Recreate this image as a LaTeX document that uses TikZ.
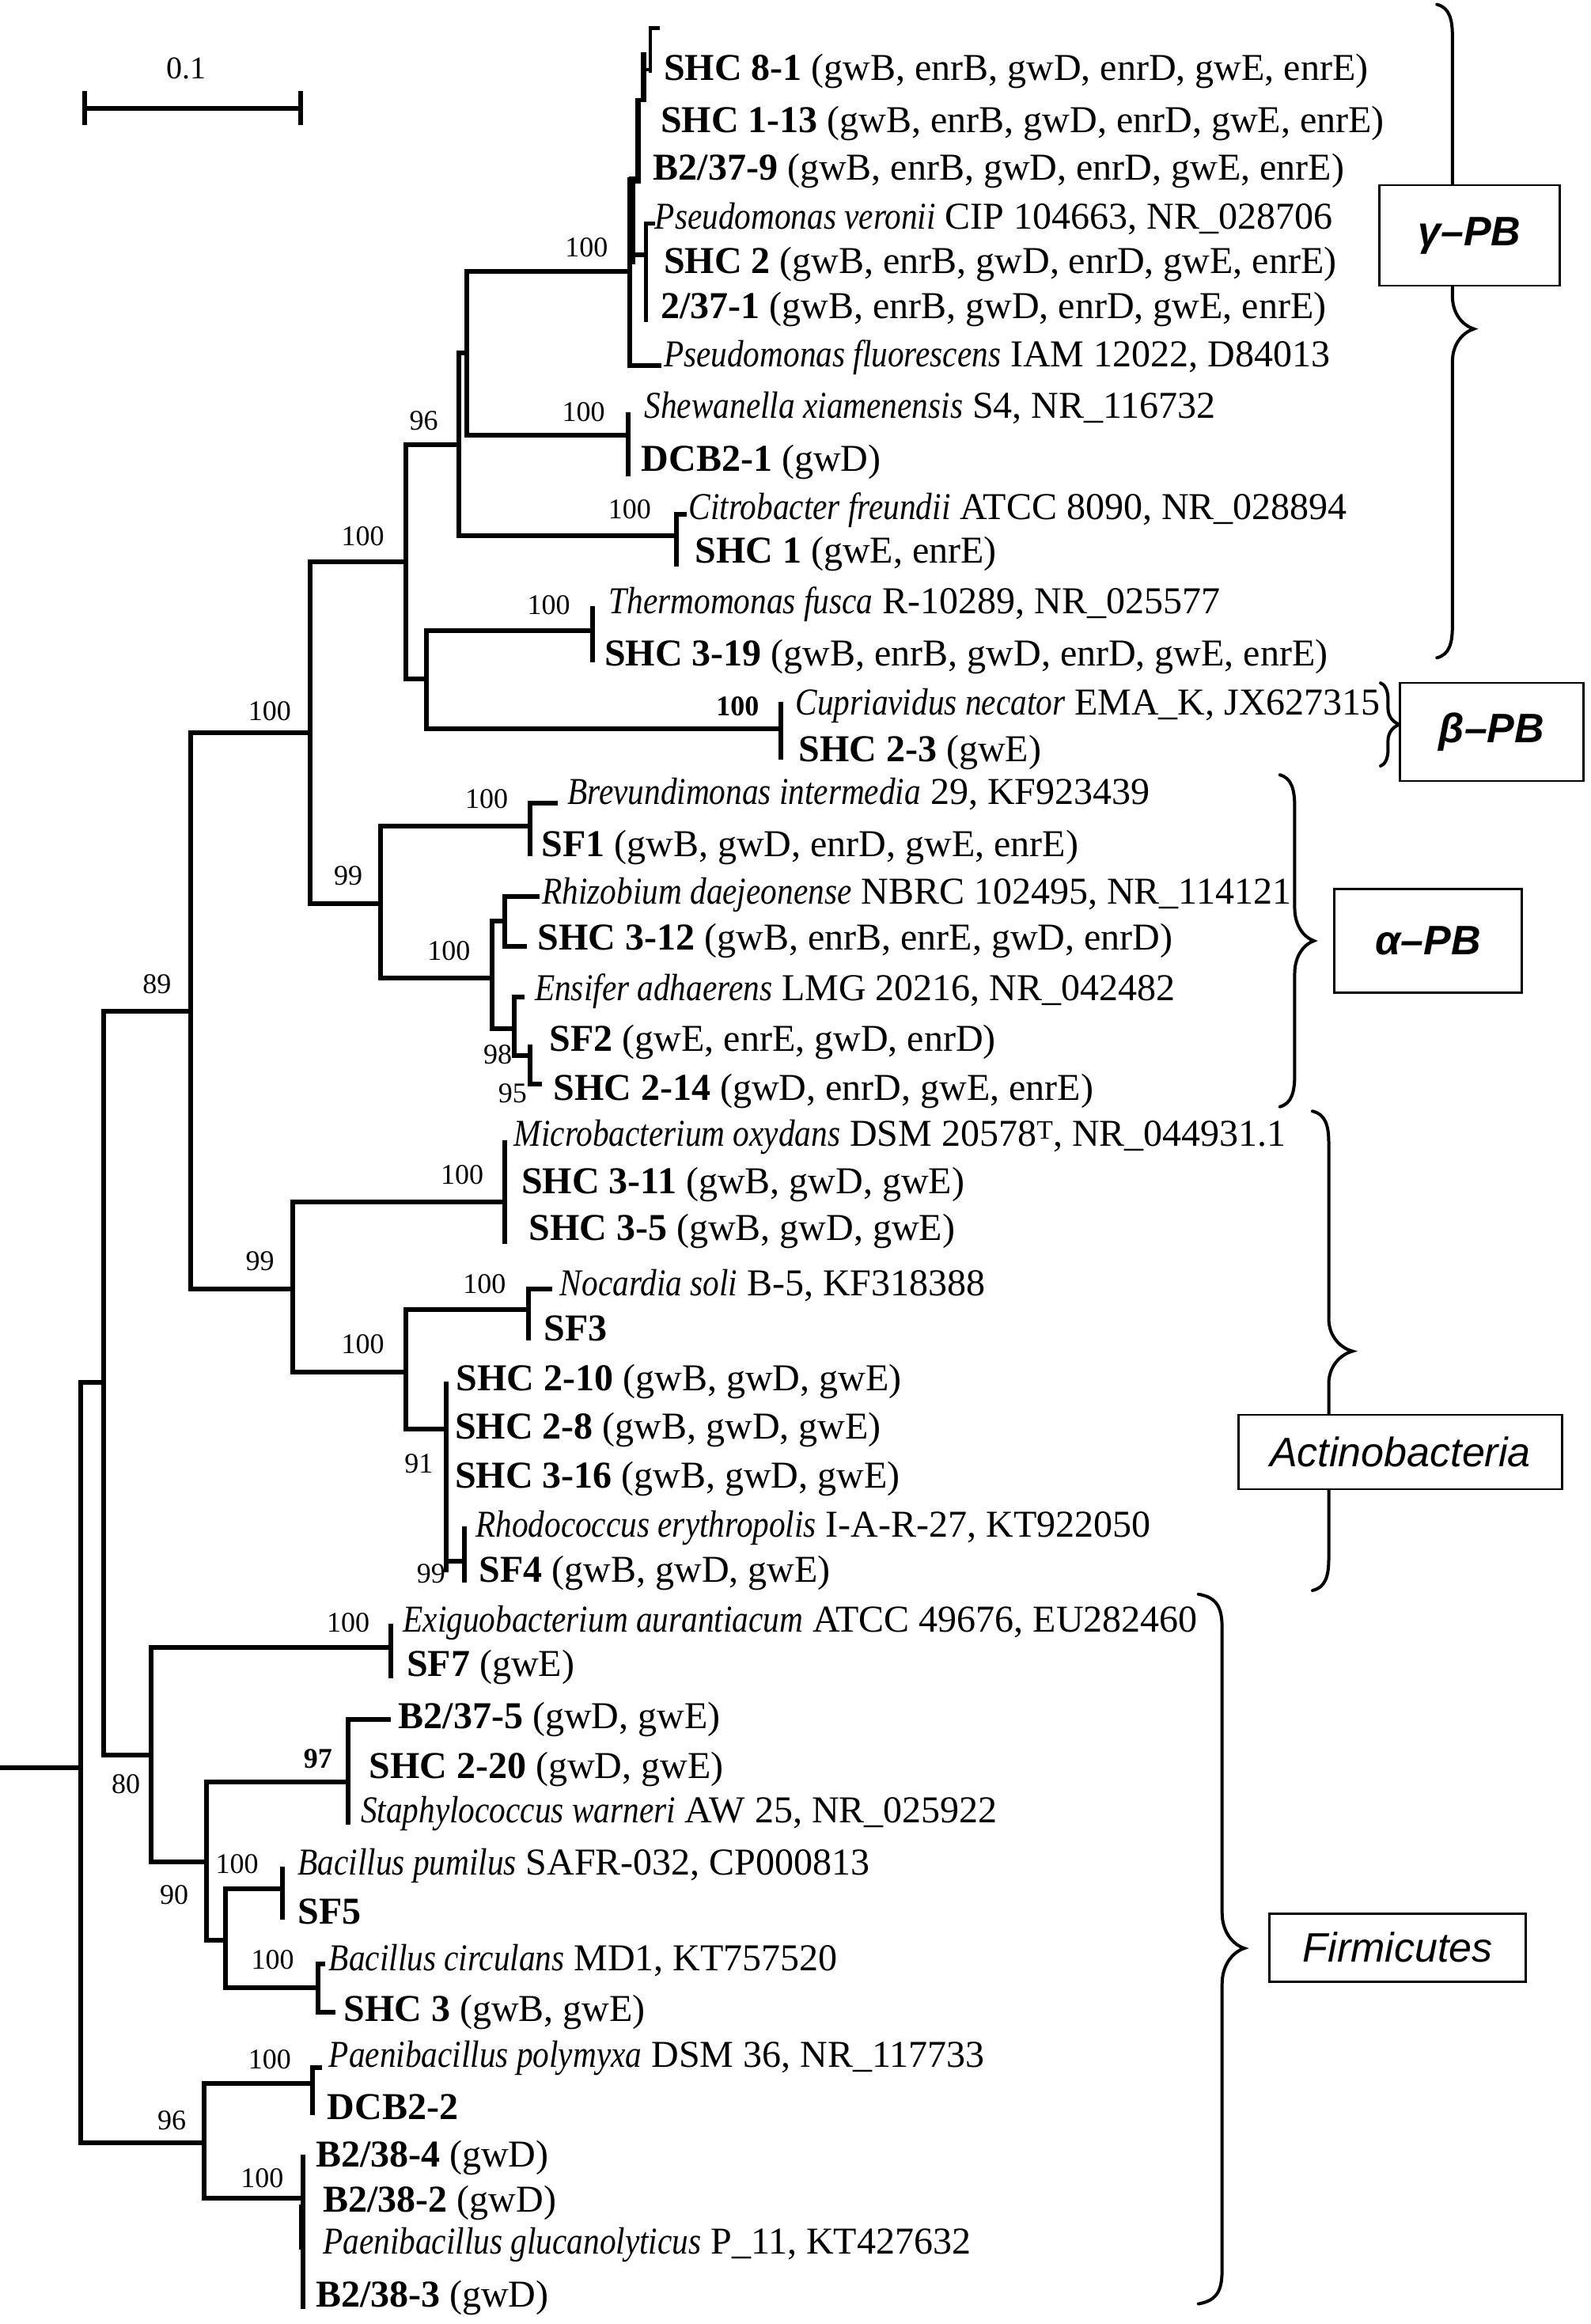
\documentclass[tikz,border=0pt]{standalone}
\usepackage{fontspec}
\setmainfont{Liberation Serif}[ItalicFeatures={FakeStretch=0.86}]
\newfontfamily\boxfont{Liberation Sans}
\newcommand\cbrace[7]{%
  \draw[brc] (#1,#3) .. controls ({#2-2},{#3+0.1*#7}) and (#2,{#3+0.45*#7}) .. (#2,{#3+#7})
    -- (#2,{#5-#7}) .. controls (#2,{#5-0.45*#7}) and ({0.5*(#2+#4)},{#5-0.1*#7}) .. (#4,#5)
    .. controls ({0.5*(#2+#4)},{#5+0.1*#7}) and (#2,{#5+0.45*#7}) .. (#2,{#5+#7})
    -- (#2,{#6-#7}) .. controls (#2,{#6-0.45*#7}) and ({#2-2},{#6-0.1*#7}) .. (#1,#6);}
\begin{document}
\begin{tikzpicture}[x=1.8724pt,y=-1.8724pt,
  br/.style={line width=6pt,line cap=rect},
  thn/.style={line width=4.5pt,line cap=rect},
  thk/.style={line width=8pt,line cap=rect},
  brc/.style={line width=4pt,line cap=round},
  lab/.style={anchor=west,inner sep=0pt,font=\fontsize{48}{56}\selectfont,text height=34pt,text depth=10pt},
  bs/.style={inner sep=0pt,font=\fontsize{36}{40}\selectfont},
  bsb/.style={bs,font=\fontsize{36}{40}\selectfont\bfseries},
  cbox/.style={draw,line width=2.5pt,fill=white,inner sep=0pt,font=\boxfont\fontsize{52}{60}\selectfont}]
\useasboundingbox (0,0) rectangle (1074.03,1568.6);

% scale bar
\coordinate (sb1) at (57,73);
\coordinate (sb2) at (203,73);
\draw[br] (sb1) -- (sb2);
\draw[br] (57,63) -- (57,83);
\draw[br] (203,63) -- (203,83);
\node[bs,font=\fontsize{40}{44}\selectfont] (sbl) at (126,46) {0.1};

% internal nodes
\coordinate (root0) at (0,1193);
\coordinate (R) at (54.5,1193);
\coordinate (A) at (69.8,933);
\coordinate (F96) at (138,1446.5);
\coordinate (N89) at (128.7,682.5);
\coordinate (N80) at (102,1184.8);
\coordinate (N100a) at (209.5,494.5);
\coordinate (N99b) at (197.5,870);
\coordinate (G) at (274,379);
\coordinate (N99a) at (257,610);
\coordinate (N96) at (310,300);
\coordinate (NTB) at (288,458.5);
\coordinate (Nsub) at (315,238);
\coordinate (Cit) at (456.4,361.5);
\coordinate (Pse) at (425,183);
\coordinate (She) at (424,294);
\coordinate (Th) at (400,425.7);
\coordinate (Cu) at (527,492);
\coordinate (Bre) at (357.6,557.5);
\coordinate (Rh) at (332,660);
\coordinate (RhA) at (340.6,621.8);
\coordinate (En) at (347.4,694.5);
\coordinate (SFn) at (357.6,712.4);
\coordinate (Mi) at (340.6,811);
\coordinate (Ac) at (274,926);
\coordinate (No) at (356.8,884);
\coordinate (N91) at (301,964.7);
\coordinate (Rho) at (313.4,1053.6);
\coordinate (Ex) at (264,1111.8);
\coordinate (N90) at (139.6,1256.9);
\coordinate (N97) at (235,1202.6);
\coordinate (Nb) at (152,1309.4);
\coordinate (Pu) at (190.7,1274.7);
\coordinate (Ci) at (214.6,1341.4);
\coordinate (Pol) at (211,1406.4);
\coordinate (B38) at (204.4,1483.8);

\draw[br] (root0) -- (R);
\draw[br] (R) |- (A);  \draw[br] (R) |- (F96);
\draw[br] (A) |- (N89); \draw[br] (A) |- (N80);
\draw[br] (N89) |- (N100a); \draw[br] (N89) |- (N99b);
\draw[br] (N100a) |- (G); \draw[br] (N100a) |- (N99a);
\draw[br] (G) |- (N96); \draw[br] (G) |- (NTB);
\draw[br] (N96) |- (Nsub); \draw[br] (N96) |- (Cit);
\draw[br] (Nsub) |- (Pse); \draw[br] (Nsub) |- (She);
\draw[br] (NTB) |- (Th); \draw[br] (NTB) |- (Cu);
\draw[br] (N99a) |- (Bre); \draw[br] (N99a) |- (Rh);
\draw[br] (Rh) |- (RhA); \draw[br] (Rh) |- (En);
\draw[br] (En) |- (SFn);
\draw[br] (N99b) |- (Mi); \draw[br] (N99b) |- (Ac);
\draw[br] (Ac) |- (No); \draw[br] (Ac) |- (N91);
\draw[br] (N91) |- (Rho);
\draw[br] (N80) |- (Ex); \draw[br] (N80) |- (N90);
\draw[br] (N90) |- (N97); \draw[br] (N90) |- (Nb);
\draw[br] (Nb) |- (Pu); \draw[br] (Nb) |- (Ci);
\draw[br] (F96) |- (Pol); \draw[br] (F96) |- (B38);

% Pseudomonas cluster
\coordinate (Lflu) at (445,246.5);
\coordinate (PseTop) at (425,121);
\coordinate (Ver) at (436,172);
\coordinate (Lver) at (441,151);
\coordinate (L237) at (436,216);
\draw[br] (Pse) |- (Lflu);
\draw[br] (Pse) -- (PseTop);
\draw[br] (Pse) |- (Ver);
\draw[thn] (Ver) |- (Lver);
\draw[thn] (Ver) -- (L237);
\draw[thk] (426.8,121) -- (426.8,176);
\draw[line width=7pt] (430.8,66) -- (430.8,124);
\draw[line width=7pt] (434.3,35) -- (434.3,69);
\draw[thn] (434.3,47) -- (439,47);
\draw[thn] (439,19) -- (439,48);
\draw[thn] (439,19) -- (444,19);

% terminal clusters
\draw[br] (424,280) -- (424,320);
\draw[br] (462,347) -- (456.4,347) -- (456.4,380.8);
\draw[br] (400,410.7) -- (400,445.4);
\draw[br] (527,475.4) -- (527,511);
\draw[br] (374.7,542) -- (357.6,542) -- (357.6,576.5);
\draw[br] (362.7,605) -- (340.6,605) -- (340.6,638.5) -- (354,638.5);
\draw[br] (352.5,673) -- (347.4,673) -- (347.4,694.5);
\draw[br] (357.6,706.5) -- (357.6,731.5) -- (364.4,731.5);
\draw[br] (340.6,771) -- (340.6,838);
\draw[br] (371,870) -- (356.8,870) -- (356.8,903);
\draw[br] (301,934) -- (301,1059.5);
\draw[br] (313.4,1032) -- (313.4,1066.7);
\draw[br] (264,1097.6) -- (264,1131.4);
\draw[br] (262,1160.7) -- (235,1160.7) -- (235,1230);
\draw[br] (190.7,1261.3) -- (190.7,1294.2);
\draw[br] (218,1325.4) -- (214.6,1325.4) -- (214.6,1358.3) -- (224.8,1358.3);
\draw[br] (216,1395.7) -- (211,1395.7) -- (211,1426);
\draw[br] (204.4,1456) -- (204.4,1556.8);
\draw[thk] (203.9,1490) -- (203.9,1516);

% bootstrap values
\node[bs] (b1) at (396,167) {100};
\node[bs] (b2) at (286,284) {96};
\node[bs] (b3) at (394,278) {100};
\node[bs] (b4) at (425,344) {100};
\node[bs] (b5) at (245,362) {100};
\node[bs] (b6) at (370.5,408.5) {100};
\node[bsb] (b7) at (498,477) {100};
\node[bs] (b8) at (182,480) {100};
\node[bs] (b9) at (106,664) {89};
\node[bs] (b10) at (328.5,539.5) {100};
\node[bs] (b11) at (235,591) {99};
\node[bs] (b12) at (303,642) {100};
\node[bs] (b13) at (336,712) {98};
\node[bs] (b14) at (346,738) {95};
\node[bs] (b15) at (312,793) {100};
\node[bs] (b16) at (175.5,851) {99};
\node[bs] (b17) at (327,866.5) {100};
\node[bs] (b18) at (245,907) {100};
\node[bs] (b19) at (282.7,988) {91};
\node[bs] (b20) at (291,1062) {99};
\node[bs] (b21) at (235,1095) {100};
\node[bsb] (b22) at (214.6,1187) {97};
\node[bs] (b23) at (85,1204) {80};
\node[bs] (b24) at (160,1258) {100};
\node[bs] (b25) at (117.5,1279) {90};
\node[bs] (b26) at (184,1323) {100};
\node[bs] (b27) at (182,1390) {100};
\node[bs] (b28) at (116,1431) {96};
\node[bs] (b29) at (177,1470) {100};

% leaf labels
\node[lab] (t1) at (448,48) {\textbf{SHC 8-1} (gwB, enrB, gwD, enrD, gwE, enrE)};
\node[lab] (t2) at (446,83) {\textbf{SHC 1-13} (gwB, enrB, gwD, enrD, gwE, enrE)};
\node[lab] (t3) at (441,115) {\textbf{B2/37-9} (gwB, enrB, gwD, enrD, gwE, enrE)};
\node[lab] (t4) at (442,148) {\textit{Pseudomonas veronii} CIP 104663, NR\_028706};
\node[lab] (t5) at (448,178) {\textbf{SHC 2} (gwB, enrB, gwD, enrD, gwE, enrE)};
\node[lab] (t6) at (446,208.5) {\textbf{2/37-1} (gwB, enrB, gwD, enrD, gwE, enrE)};
\node[lab] (t7) at (448,241) {\textit{Pseudomonas fluorescens} IAM 12022, D84013};
\node[lab] (t8) at (435,276) {\textit{Shewanella xiamenensis} S4, NR\_116732};
\node[lab] (t9) at (433,311.5) {\textbf{DCB2-1} (gwD)};
\node[lab] (t10) at (465,344) {\textit{Citrobacter freundii} ATCC 8090, NR\_028894};
\node[lab] (t11) at (469,373.5) {\textbf{SHC 1} (gwE, enrE)};
\node[lab] (t12) at (411,408) {\textit{Thermomonas fusca} R-10289, NR\_025577};
\node[lab] (t13) at (408,443) {\textbf{SHC 3-19} (gwB, enrB, gwD, enrD, gwE, enrE)};
\node[lab] (t14) at (537,476) {\textit{Cupriavidus necator} EMA\_K, JX627315};
\node[lab] (t15) at (539,507.5) {\textbf{SHC 2-3} (gwE)};
\node[lab] (t16) at (383,536.5) {\textit{Brevundimonas intermedia} 29, KF923439};
\node[lab] (t17) at (365.5,571.5) {\textbf{SF1} (gwB, gwD, enrD, gwE, enrE)};
\node[lab] (t18) at (366,604) {\textit{Rhizobium daejeonense} NBRC 102495, NR\_114121};
\node[lab] (t19) at (363,635) {\textbf{SHC 3-12} (gwB, enrB, enrE, gwD, enrD)};
\node[lab] (t20) at (361,669) {\textit{Ensifer adhaerens} LMG 20216, NR\_042482};
\node[lab] (t21) at (371,703) {\textbf{SF2} (gwE, enrE, gwD, enrD)};
\node[lab] (t22) at (373.5,736) {\textbf{SHC 2-14} (gwD, enrD, gwE, enrE)};
\node[lab] (t23) at (347,767) {\textit{Microbacterium oxydans} DSM 20578\textsuperscript{T}, NR\_044931.1};
\node[lab] (t24) at (352,799) {\textbf{SHC 3-11} (gwB, gwD, gwE)};
\node[lab] (t25) at (357,831) {\textbf{SHC 3-5} (gwB, gwD, gwE)};
\node[lab] (t26) at (378,868) {\textit{Nocardia soli} B-5, KF318388};
\node[lab] (t27) at (367,898.5) {\textbf{SF3}};
\node[lab] (t28) at (308,932) {\textbf{SHC 2-10} (gwB, gwD, gwE)};
\node[lab] (t29) at (307,965) {\textbf{SHC 2-8} (gwB, gwD, gwE)};
\node[lab] (t30) at (307,998) {\textbf{SHC 3-16} (gwB, gwD, gwE)};
\node[lab] (t31) at (321,1031) {\textit{Rhodococcus erythropolis} I-A-R-27, KT922050};
\node[lab] (t32) at (323.5,1061.5) {\textbf{SF4} (gwB, gwD, gwE)};
\node[lab] (t33) at (272,1095) {\textit{Exiguobacterium aurantiacum} ATCC 49676, EU282460};
\node[lab] (t34) at (274.5,1125) {\textbf{SF7} (gwE)};
\node[lab] (t35) at (269,1160.5) {\textbf{B2/37-5} (gwD, gwE)};
\node[lab] (t36) at (249,1194) {\textbf{SHC 2-20} (gwD, gwE)};
\node[lab] (t37) at (243.5,1224) {\textit{Staphylococcus warneri} AW 25, NR\_025922};
\node[lab] (t38) at (201,1259) {\textit{Bacillus pumilus} SAFR-032, CP000813};
\node[lab] (t39) at (201,1292) {\textbf{SF5}};
\node[lab] (t40) at (222,1323.5) {\textit{Bacillus circulans} MD1, KT757520};
\node[lab] (t41) at (232,1358) {\textbf{SHC 3} (gwB, gwE)};
\node[lab] (t42) at (222,1388.6) {\textit{Paenibacillus polymyxa} DSM 36, NR\_117733};
\node[lab] (t43) at (221,1424) {\textbf{DCB2-2}};
\node[lab] (t44) at (213,1456) {\textbf{B2/38-4} (gwD)};
\node[lab] (t45) at (218,1486.5) {\textbf{B2/38-2} (gwD)};
\node[lab] (t46) at (218,1515) {\textit{Paenibacillus glucanolyticus} P\_11, KT427632};
\node[lab] (t47) at (213,1550.6) {\textbf{B2/38-3} (gwD)};

% clade braces
\cbrace{970}{980.5}{3}{995}{222}{444}{22}
\cbrace{932}{937}{461}{945}{489}{517}{11}
\cbrace{864}{874}{523}{887}{635}{747}{22}
\cbrace{886}{897}{750}{913}{912}{1073.5}{22}
\cbrace{809}{825}{1076}{840}{1315}{1555}{24}

% clade boxes
\node[cbox,minimum width=228pt,minimum height=127pt] (gbox) at (992,159) {\textbf{\textit{γ\textendash PB}}};
\node[cbox,minimum width=232pt,minimum height=124pt] (bbox) at (1007,494) {\textbf{\textit{β\textendash PB}}};
\node[cbox,minimum width=237pt,minimum height=131pt] (abox) at (964,635) {\textbf{\textit{α\textendash PB}}};
\node[cbox,minimum width=409pt,minimum height=94pt] (acbox) at (945.3,980) {\textit{Actinobacteria}};
\node[cbox,minimum width=324pt,minimum height=86pt] (fbox) at (943.5,1314.5) {\textit{Firmicutes}};
\end{tikzpicture}
\end{document}
